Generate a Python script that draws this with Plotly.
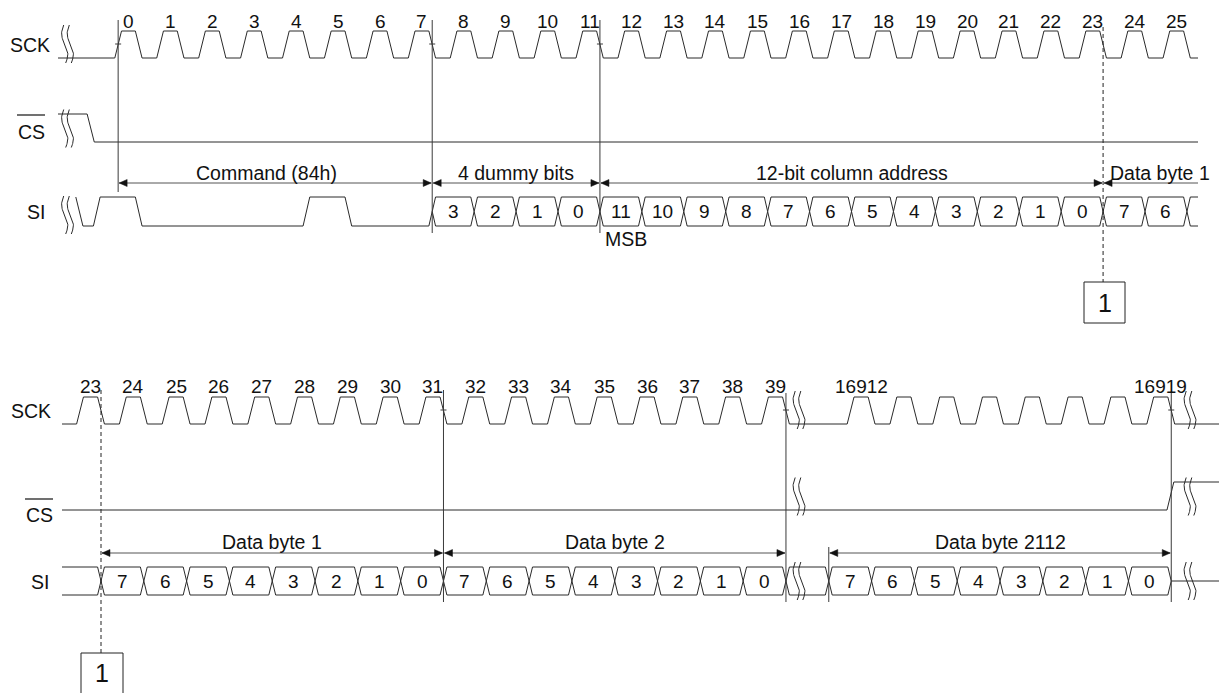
import numpy as np
import plotly.graph_objects as go

# ------------------------------------------------------------------ data
top_cycles = list(range(0, 26))                       # SCK pulses, top diagram
top_cycle_labels = [str(c) for c in top_cycles]
cmd_cycles = list(range(0, 8))
cmd_bits = [1, 0, 0, 0, 0, 1, 0, 0]                   # command 84h, MSB first
si_pre_drop = -0.93                                   # SI sketch start (cycles)
cs_top_fall = -0.66                                   # CS falls before cycle 0
dummy_cycles = list(range(8, 12))
dummy_labels = ["3", "2", "1", "0"]
addr_cycles = list(range(12, 24))
addr_labels = ["11", "10", "9", "8", "7", "6", "5", "4", "3", "2", "1", "0"]
top_data_cycles = [24, 25]
top_data_labels = ["7", "6"]
top_sections = ["Command (84h)", "4 dummy bits", "12-bit column address", "Data byte 1"]
top_section_edges = [0, 7, 11, 23]                    # clock where each section starts

bot_cycles_a = list(range(23, 40))
bot_cycles_b = list(range(16912, 16920))
bot_label_cycles = bot_cycles_a + [16912, 16919]
byte1_cycles = list(range(24, 32))
byte2_cycles = list(range(32, 40))
byte2112_cycles = list(range(16912, 16920))
byte_labels = ["7", "6", "5", "4", "3", "2", "1", "0"]
bot_sections = ["Data byte 1", "Data byte 2", "Data byte 2112"]
bot_section_edges = [(23, 31), (31, 39), (16911, 16919)]
skipped_cycles = 16871                                # cycles hidden by the break

# ------------------------------------------------------------------ geometry / style
W, H = 1227, 693              # reference picture size
OFF = 8                       # page body margin of the html page
FW, FH = W - OFF, H - OFF     # figure size so that the page fills the window
PT, X0T = 41.93, 114.8        # top: px per clock, px of clock 0
PB, X0B = 42.81, 76.6         # bottom: px per clock, px of clock 23
R1, F0, F1 = 0.16, 0.49, 0.65
FM = (F0 + F1) / 2
WAVE = "#2a2a2a"
VLINE = "#3a3a3a"
ARROW = "#555555"
FONT = "Arial, Liberation Sans, sans-serif"
FS = 19.5
FD = 19


def tt(px):
    return (px - X0T) / PT


def tb(px):
    return 23 + (px - X0B) / PB


def disp(c):
    return c - skipped_cycles if c > 1000 else c


TOP = dict(sck=(31, 58), cs=(114, 142), si=(197, 226))
BOT = dict(sck=(397, 424), cs=(482, 510), si=(567, 595))

fig = go.Figure()


def add_line(xs, ys, axis="x", color=WAVE, width=1, dash=None):
    fig.add_trace(go.Scatter(x=xs, y=ys, xaxis=axis, yaxis="y", mode="lines",
                             line=dict(color=color, width=width, dash=dash),
                             hoverinfo="skip", showlegend=False))


def add_fill(xs, ys, axis="x", color="#111111"):
    fig.add_trace(go.Scatter(x=xs, y=ys, xaxis=axis, yaxis="y", mode="lines",
                             fill="toself", fillcolor=color, line=dict(color=color, width=0.5),
                             hoverinfo="skip", showlegend=False))


def text(x, y, s, axis="x", size=FS, xanchor="center"):
    fig.add_annotation(x=x, y=y, xref=axis, yref="y", text=s, showarrow=False,
                       xanchor=xanchor, yanchor="middle",
                       font=dict(family=FONT, size=size, color="#111111"))


def clock(cycles, t0, t1, hi, lo):
    xs, ys = [t0], [lo]
    for c in cycles:
        xs += [c, c + R1, c + F0, c + F1]
        ys += [lo, hi, hi, lo]
    xs.append(t1)
    ys.append(lo)
    return xs, ys


def bus(cells, hi, lo):
    mid = (hi + lo) / 2
    xs, ys = [], []
    for c in cells:
        a = c - 1
        xs += [a + FM, a + F1, c + F0, c + FM, None, a + FM, a + F1, c + F0, c + FM, None]
        ys += [mid, hi, hi, mid, None, mid, lo, lo, mid, None]
    return xs, ys


def squiggle(conv, xc_px, ymid, axis, half=19):
    s = np.linspace(0, 1, 40)
    xs, ys = [], []
    for off in (-2.8, 2.8):
        xpx = xc_px + off - 2.6 * np.sin(2 * np.pi * s) + 2.0 * (s - 0.5)
        xs += [conv(v) for v in xpx] + [None]
        ys += list(ymid - half + 2 * half * s) + [None]
    add_line(xs, ys, axis)


def arrow(t_l, t_r, y, P, axis, left=True, right=True):
    add_line([t_l, t_r], [y, y], axis, color=ARROW)
    L, h = 8 / P, 3.5
    if left:
        add_fill([t_l, t_l + L, t_l + L, t_l], [y, y - h, y + h, y], axis)
    if right:
        add_fill([t_r, t_r - L, t_r - L, t_r], [y, y - h, y + h, y], axis)


# ================================================================== TOP DIAGRAM
t_end = tt(1198)
hi, lo = TOP["sck"]
xs, ys = clock(top_cycles, tt(58), t_end, hi, lo)
add_line(xs, ys)
for c, lab in zip(top_cycles, top_cycle_labels):
    text(c + (R1 + F0) / 2, 21, lab, size=FD)

# CS
hi, lo = TOP["cs"]
add_line([tt(58), cs_top_fall, cs_top_fall + 0.17, t_end], [hi, hi, lo, lo])

# SI serial part (command)
hi, lo = TOP["si"]
mid = (hi + lo) / 2
lvl = {1: hi, 0: lo}
xs, ys = [si_pre_drop, si_pre_drop + 0.17], [hi, lo]
level = 0
for c, b in zip(cmd_cycles, cmd_bits):
    if b != level:
        xs += [c - 1 + F0, c - 1 + F1]
        ys += [lvl[level], lvl[b]]
        level = b
xs += [cmd_cycles[-1] + F0, cmd_cycles[-1] + FM]
ys += [lvl[level], mid]
add_line(xs, ys)

# SI bus
cells = dummy_cycles + addr_cycles + top_data_cycles
xs, ys = bus(cells, hi, lo)
last = cells[-1]
xs += [last + FM, last + F1, t_end, None, last + FM, last + F1, t_end]
ys += [mid, hi, hi, None, mid, lo, lo]
add_line(xs, ys)
for c, lab in zip(cells, dummy_labels + addr_labels + top_data_labels):
    text(c + FM - 0.5, mid, lab, size=FD)

# break marks
for ym in (44, 128.5, 215):
    squiggle(tt, 67.5, ym, "x")

# vertical markers
add_line([0.08, 0.08], [20, 192], color=VLINE)
for e in (7, 11):
    add_line([e + FM, e + FM], [20, 233], color=VLINE)
for tx in (0.08, 7 + FM, 11 + FM):
    add_line([tx - 3 / PT, tx + 3 / PT], [44, 44], color=VLINE)
add_line([23 + FM, 23 + FM], [27, 282], color="#222222", dash="4px,3px")

# section arrows
ya = 183
starts = [0.08 + 1 / PT] + [e + FM + 1 / PT for e in top_section_edges[1:]]
ends = [e + FM - 1 / PT for e in top_section_edges[1:]] + [t_end]
for i, (name_, a, b) in enumerate(zip(top_sections, starts, ends)):
    last_sec = i == len(top_sections) - 1
    arrow(a, b, ya, PT, "x", left=True, right=not last_sec)
    cx = (a + b) / 2 if not last_sec else tt(1160)
    if i == 0:
        cx -= 0.2
    text(cx, 173, name_)
text(11 + FM + 3 / PT, 239, "MSB", xanchor="left")

# box "1"
fig.add_shape(type="rect", xref="x", yref="y", x0=tt(1084), x1=tt(1125), y0=282, y1=323,
              line=dict(color="#222222", width=1))
text(tt(1104.5), 303, "1", size=25)

# ================================================================== BOTTOM DIAGRAM
ax = "x2"
t0b, t1b = tb(62), tb(W + 2)
hi, lo = BOT["sck"]
xs, ys = clock([disp(c) for c in bot_cycles_a + bot_cycles_b], t0b, t1b, hi, lo)
add_line(xs, ys, ax)
for c in bot_label_cycles:
    text(disp(c) + (R1 + F0) / 2, 386, str(c), axis=ax, size=FD)

# CS
hi, lo = BOT["cs"]
e = disp(bot_cycles_b[-1])
add_line([t0b, e + F0 - 0.02, e + F1 - 0.02, t1b], [lo, lo, hi, hi], ax)

# SI bus
hi, lo = BOT["si"]
mid = (hi + lo) / 2
first = bot_cycles_a[0]
xs = [t0b, first + F0, first + FM, None, t0b, first + F0, first + FM, None]
ys = [hi, hi, mid, None, lo, lo, mid, None]
cells = [disp(c) for c in byte1_cycles + byte2_cycles]
cells += [cells[-1] + 1]
cells += [disp(c) for c in byte2112_cycles]
bx, by = bus(cells, hi, lo)
xs += bx
ys += by
e = disp(byte2112_cycles[-1])
xs += [e + FM, t1b]
ys += [mid, mid]
add_line(xs, ys, ax)
for c, lab in zip(byte1_cycles + byte2_cycles + byte2112_cycles, byte_labels * 3):
    text(disp(c) + FM - 0.5, mid, lab, axis=ax, size=FD)

# break marks
for xc in (799, 1190):
    for ym in (410, 496.5, 581):
        squiggle(tb, xc, ym, ax)

# vertical markers
for c, ytop in ((31, 390), (39, 393), (16919, 393)):
    tx = disp(c) + FM
    add_line([tx, tx], [ytop, 602], ax, color=VLINE)
    add_line([tx - 3 / PB, tx + 3 / PB], [410, 410], ax, color=VLINE)
tx = disp(16911) + FM
add_line([tx, tx], [547, 602], ax, color=VLINE)
add_line([23 + FM, 23 + FM], [390, 653], ax, color="#222222", dash="4px,3px")

ya = 553
for name_, (a, b) in zip(bot_sections, bot_section_edges):
    ta, tbb = disp(a) + FM + 1 / PB, disp(b) + FM - 1 / PB
    arrow(ta, tbb, ya, PB, ax)
    text((ta + tbb) / 2, 542, name_, axis=ax)

fig.add_shape(type="rect", xref=ax, yref="y", x0=tb(81), x1=tb(123), y0=653, y1=694,
              line=dict(color="#222222", width=1))
text(tb(102), 673, "1", axis=ax, size=25)


# ================================================================== signal names
def px_paper(px):
    return (px - OFF) / FW


def name(px, y, s):
    fig.add_annotation(x=px_paper(px), y=y, xref="paper", yref="y", text=s, showarrow=False,
                       xanchor="center", yanchor="middle",
                       font=dict(family=FONT, size=FS, color="#111111"))


name(30, 45, "SCK")
name(31, 132, "CS")
name(35.5, 212, "SI")
name(31, 411, "SCK")
name(39, 515, "CS")
name(40, 582, "SI")
for x0, x1, y in ((17, 45, 115), (25, 53, 499)):
    fig.add_shape(type="line", xref="paper", yref="y", x0=px_paper(x0), x1=px_paper(x1),
                  y0=y, y1=y, line=dict(color="#111111", width=1.2))

fig.update_layout(
    width=FW, height=FH, margin=dict(l=0, r=0, t=0, b=0),
    paper_bgcolor="white", plot_bgcolor="white", showlegend=False,
    xaxis=dict(range=[tt(OFF), tt(W)], visible=False, domain=[0, 1], fixedrange=True),
    xaxis2=dict(range=[tb(OFF), tb(W)], visible=False, overlaying="x", anchor="y",
                fixedrange=True),
    yaxis=dict(range=[H, OFF], visible=False, domain=[0, 1], fixedrange=True),
)
fig.write_html("out.html")
